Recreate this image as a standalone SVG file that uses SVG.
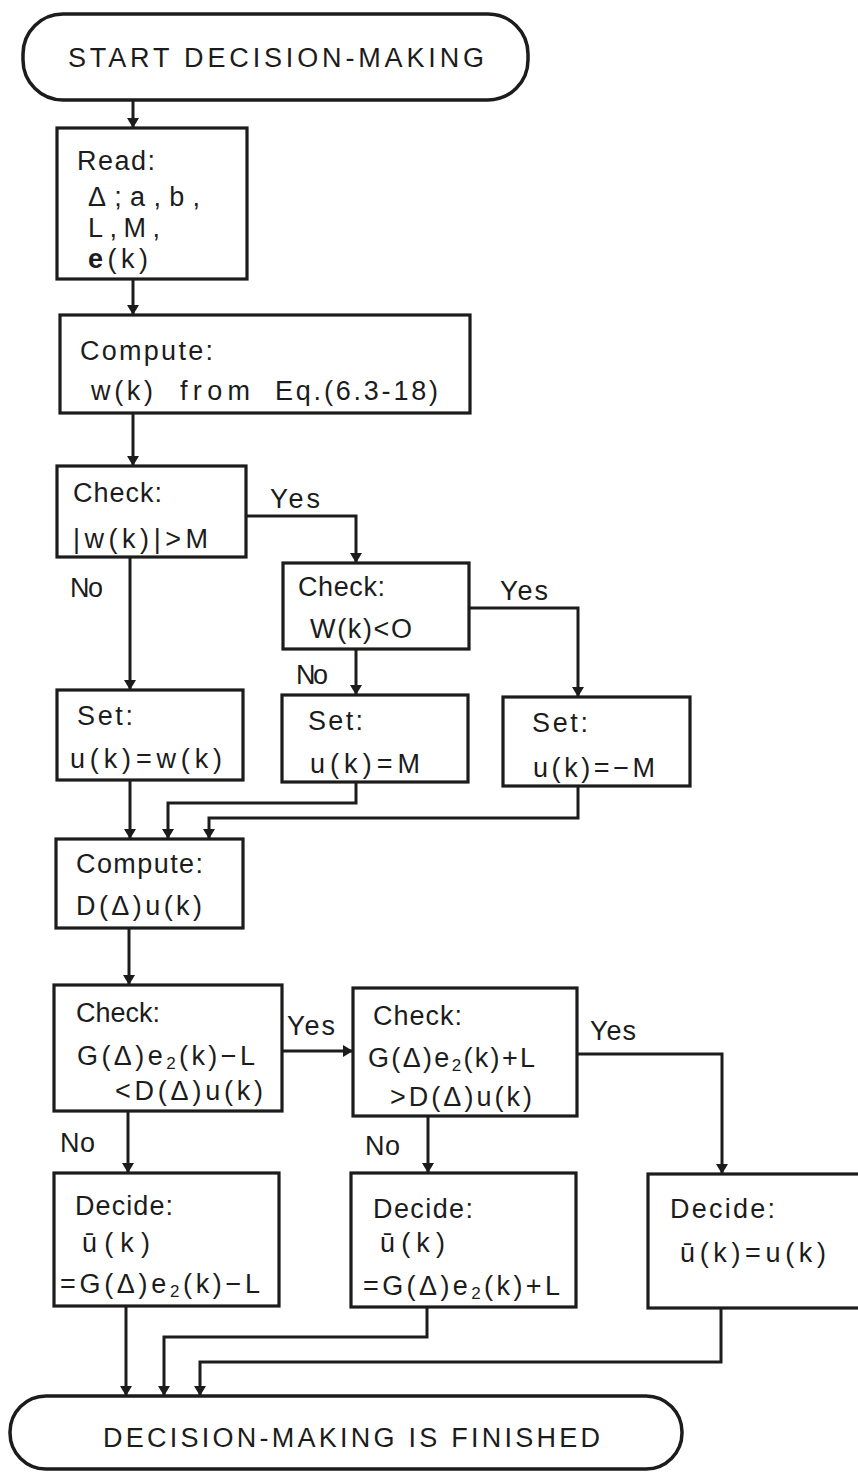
<svg xmlns="http://www.w3.org/2000/svg" width="858" height="1472" viewBox="0 0 858 1472">
<defs>
<marker id="ah" viewBox="0 0 10 18" refX="10" refY="9" markerWidth="10" markerHeight="18" markerUnits="userSpaceOnUse" orient="auto">
<path d="M0,3 L10,9 L0,15 Z" fill="#1c1c1c"/>
</marker>
<style>
.box{fill:#fff;stroke:#1c1c1c;stroke-width:3.2}
.term{fill:#fff;stroke:#1c1c1c;stroke-width:3.5}
.c{fill:none;stroke:#1c1c1c;stroke-width:3}
.t{font-family:"Liberation Sans",Arial,sans-serif;font-size:27px;fill:#1c1c1c}
.tt{font-family:"Liberation Sans",Arial,sans-serif;font-size:27px;fill:#1c1c1c}
.sub{font-size:17px}
</style>
</defs>
<rect width="858" height="1472" fill="#fff"/>

<g id="connectors">
<path class="c" d="M133,100 V128" marker-end="url(#ah)"/>
<path class="c" d="M133,279 V315" marker-end="url(#ah)"/>
<path class="c" d="M133,413 V466" marker-end="url(#ah)"/>
<path class="c" d="M246,516 H356 V563" marker-end="url(#ah)"/>
<path class="c" d="M130,557 V690" marker-end="url(#ah)"/>
<path class="c" d="M469,608 H578 V697" marker-end="url(#ah)"/>
<path class="c" d="M356,649 V695" marker-end="url(#ah)"/>
<path class="c" d="M130,780 V839" marker-end="url(#ah)"/>
<path class="c" d="M356,782 V803 H168 V839" marker-end="url(#ah)"/>
<path class="c" d="M578,786 V818 H209 V839" marker-end="url(#ah)"/>
<path class="c" d="M129,928 V985" marker-end="url(#ah)"/>
<path class="c" d="M282,1051 H353" marker-end="url(#ah)"/>
<path class="c" d="M577,1054 H722 V1174" marker-end="url(#ah)"/>
<path class="c" d="M128,1111 V1173" marker-end="url(#ah)"/>
<path class="c" d="M428,1116 V1173" marker-end="url(#ah)"/>
<path class="c" d="M126,1306 V1396" marker-end="url(#ah)"/>
<path class="c" d="M427,1307 V1337 H164 V1396" marker-end="url(#ah)"/>
<path class="c" d="M721,1308 V1362 H200 V1396" marker-end="url(#ah)"/>
<text class="t" x="270" y="508" textLength="50" lengthAdjust="spacing">Yes</text>
<text class="t" x="70" y="597" textLength="33" lengthAdjust="spacing">No</text>
<text class="t" x="500" y="600" textLength="48" lengthAdjust="spacing">Yes</text>
<text class="t" x="296" y="684" textLength="32" lengthAdjust="spacing">No</text>
<text class="t" x="287" y="1035" textLength="48" lengthAdjust="spacing">Yes</text>
<text class="t" x="590" y="1040" textLength="46" lengthAdjust="spacing">Yes</text>
<text class="t" x="60" y="1152" textLength="35" lengthAdjust="spacing">No</text>
<text class="t" x="365" y="1155" textLength="35" lengthAdjust="spacing">No</text>
</g>

<g id="start">
<rect class="term" x="23" y="14" width="505" height="86" rx="40"/>
<text class="tt" x="68" y="67" textLength="416" lengthAdjust="spacing">START DECISION-MAKING</text>
</g>

<g id="read">
<rect class="box" x="57" y="128" width="190" height="151"/>
<text class="t" x="77" y="170" textLength="78" lengthAdjust="spacing">Read:</text>
<text class="t" x="88" y="206" textLength="112" lengthAdjust="spacing">Δ;a,b,</text>
<text class="t" x="88" y="237" textLength="72" lengthAdjust="spacing">L,M,</text>
<text class="t" x="88" y="268" textLength="60" lengthAdjust="spacing"><tspan font-weight="bold">e</tspan>(k)</text>
</g>

<g id="compute1">
<rect class="box" x="60" y="315" width="410" height="98"/>
<text class="t" x="80" y="360" textLength="133" lengthAdjust="spacing">Compute:</text>
<text class="t" x="91" y="400" textLength="62" lengthAdjust="spacing">w(k)</text>
<text class="t" x="180" y="400" textLength="70" lengthAdjust="spacing">from</text>
<text class="t" x="275" y="400" font-size="24" textLength="163" lengthAdjust="spacing">Eq.(6.3-18)</text>
</g>

<g id="check1">
<rect class="box" x="57" y="466" width="189" height="91"/>
<text class="t" x="73" y="502" textLength="89" lengthAdjust="spacing">Check:</text>
<text class="t" x="73" y="548" textLength="135" lengthAdjust="spacing">|w(k)|&gt;M</text>
</g>

<g id="check2">
<rect class="box" x="283" y="563" width="186" height="86"/>
<text class="t" x="298" y="596" textLength="87" lengthAdjust="spacing">Check:</text>
<text class="t" x="310" y="638" textLength="102" lengthAdjust="spacing">W(k)&lt;O</text>
</g>

<g id="set1">
<rect class="box" x="57" y="690" width="186" height="90"/>
<text class="t" x="77" y="725" textLength="56" lengthAdjust="spacing">Set:</text>
<text class="t" x="70" y="768" textLength="152" lengthAdjust="spacing">u(k)=w(k)</text>
</g>

<g id="set2">
<rect class="box" x="282" y="695" width="186" height="87"/>
<text class="t" x="308" y="730" textLength="55" lengthAdjust="spacing">Set:</text>
<text class="t" x="310" y="773" textLength="110" lengthAdjust="spacing">u(k)=M</text>
</g>

<g id="set3">
<rect class="box" x="503" y="697" width="187" height="89"/>
<text class="t" x="532" y="732" textLength="56" lengthAdjust="spacing">Set:</text>
<text class="t" x="533" y="777" textLength="122" lengthAdjust="spacing">u(k)=−M</text>
</g>

<g id="compute2">
<rect class="box" x="56" y="839" width="187" height="89"/>
<text class="t" x="76" y="873" textLength="127" lengthAdjust="spacing">Compute:</text>
<text class="t" x="76" y="915" textLength="126" lengthAdjust="spacing">D(Δ)u(k)</text>
</g>

<g id="check3">
<rect class="box" x="54" y="985" width="228" height="126"/>
<text class="t" x="76" y="1022" textLength="84" lengthAdjust="spacing">Check:</text>
<text class="t" x="77" y="1065" textLength="178" lengthAdjust="spacing">G(Δ)e<tspan class="sub" dy="4">2</tspan><tspan dy="-4">(k)−L</tspan></text>
<text class="t" x="115" y="1100" textLength="148" lengthAdjust="spacing">&lt;D(Δ)u(k)</text>
</g>

<g id="check4">
<rect class="box" x="353" y="988" width="224" height="128"/>
<text class="t" x="373" y="1025" textLength="89" lengthAdjust="spacing">Check:</text>
<text class="t" x="368" y="1067" textLength="167" lengthAdjust="spacing">G(Δ)e<tspan class="sub" dy="4">2</tspan><tspan dy="-4">(k)+L</tspan></text>
<text class="t" x="390" y="1106" textLength="142" lengthAdjust="spacing">&gt;D(Δ)u(k)</text>
</g>

<g id="decide1">
<rect class="box" x="54" y="1173" width="225" height="133"/>
<text class="t" x="75" y="1215" textLength="98" lengthAdjust="spacing">Decide:</text>
<text class="t" x="82" y="1252" textLength="68" lengthAdjust="spacing">ū(k)</text>
<text class="t" x="60" y="1293" textLength="200" lengthAdjust="spacing">=G(Δ)e<tspan class="sub" dy="4">2</tspan><tspan dy="-4">(k)−L</tspan></text>
</g>

<g id="decide2">
<rect class="box" x="351" y="1173" width="225" height="134"/>
<text class="t" x="373" y="1218" textLength="100" lengthAdjust="spacing">Decide:</text>
<text class="t" x="380" y="1252" textLength="65" lengthAdjust="spacing">ū(k)</text>
<text class="t" x="363" y="1295" textLength="197" lengthAdjust="spacing">=G(Δ)e<tspan class="sub" dy="4">2</tspan><tspan dy="-4">(k)+L</tspan></text>
</g>

<g id="decide3">
<rect class="box" x="648" y="1174" width="230" height="134"/>
<text class="t" x="670" y="1218" textLength="105" lengthAdjust="spacing">Decide:</text>
<text class="t" x="680" y="1262" textLength="146" lengthAdjust="spacing">ū(k)=u(k)</text>
</g>

<g id="end">
<rect class="term" x="10" y="1396" width="672" height="73" rx="36"/>
<text class="tt" x="103" y="1447" textLength="497" lengthAdjust="spacing">DECISION-MAKING IS FINISHED</text>
</g>
</svg>
